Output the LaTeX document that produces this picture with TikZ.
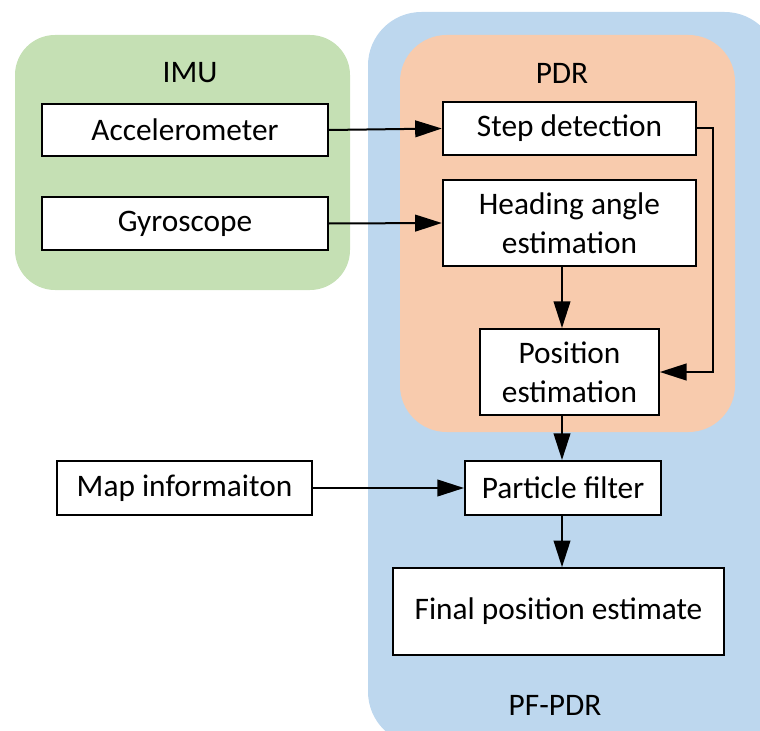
\documentclass[tikz,border=0pt]{standalone}
\usepackage{fontspec}
\setmainfont{Carlito}
\usepackage{xcolor}
\usetikzlibrary{arrows.meta}
\definecolor{imugreen}{HTML}{C5E0B4}
\definecolor{pfblue}{HTML}{BDD7EE}
\definecolor{pdrorange}{HTML}{F8CBAD}

\begin{document}
\begin{tikzpicture}[x=0.75pt, y=-0.75pt, font=\fontsize{23.5}{29}\selectfont, every node/.style={align=center}, block/.style={draw, fill=white, line width=1.5pt, inner sep=0pt}, flow/.style={line width=1.5pt, -{Triangle[length=20pt, width=12.5pt]}}]
	\useasboundingbox (0,0) rectangle (760,731);
	\clip (0,0) rectangle (760,731);
	% groups
	\fill[imugreen, rounded corners=30] (15,35) rectangle (350,290);
	\fill[pfblue, rounded corners=40] (368,12) rectangle (778,745);
	\fill[pdrorange, rounded corners=35] (400,35) rectangle (735,432);
	\node(imulabel) at (190,73) {IMU};
	\node(pdrlabel) at (562,73) {PDR};
	\node(pflabel) at (555,705) {PF-PDR};
	% blocks
	\node[block, minimum width=214.5pt, minimum height=39pt](acc) at (185,130) {Accelerometer};
	\node[block, minimum width=214.5pt, minimum height=39.5pt](gyro) at (185,223.5) {Gyroscope};
	\node[block, minimum width=190pt, minimum height=40pt](step) at (569.5,128.5) {Step detection};
	\node[block, minimum width=190pt, minimum height=64.5pt](heading) at (569.5,223) {Heading angle\\estimation};
	\node[block, minimum width=134pt, minimum height=64.5pt](pos) at (569.5,372) {Position\\estimation};
	\node[block, minimum width=191pt, minimum height=40.5pt](map) at (184.5,488) {Map informaiton};
	\node[block, minimum width=147pt, minimum height=40.5pt](pf) at (563,488) {Particle filter};
	\node[block, minimum width=248pt, minimum height=65pt](final) at (558.5,611.5) {Final position estimate};
	% connectors
	\coordinate(col) at (562,0);
	\draw[flow] (acc.east) -- (step.west);
	\draw[flow] (gyro.east) -- (heading.west);
	\draw[flow] (step.east) -- ++(16,0) |- (pos.east);
	\draw[flow] (heading.south -| col) -- (pos.north -| col);
	\draw[flow] (pos.south -| col) -- (pf.north -| col);
	\draw[flow] (map.east) -- (pf.west);
	\draw[flow] (pf.south -| col) -- (final.north -| col);
\end{tikzpicture}
\end{document}
